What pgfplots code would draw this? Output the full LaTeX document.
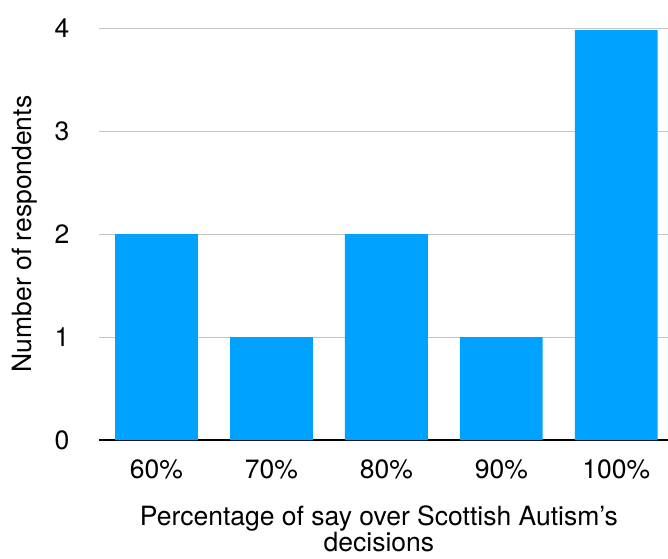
\documentclass[border=0pt]{standalone}
\usepackage{pgfplots}
\pgfplotsset{compat=1.18}
\usepackage{fontspec}
\setmainfont{TeX Gyre Heros}
\definecolor{barblue}{HTML}{00A2FF}
\definecolor{gridgray}{HTML}{C6C6C6}
\begin{document}
\begin{tikzpicture}
\useasboundingbox (0,0) rectangle (668pt,558pt);
\begin{axis}[
  at={(99pt,118pt)}, anchor=south west,
  scale only axis,
  width=569pt, height=412pt,
  xmin=-0.5, xmax=4.45,
  ymin=0, ymax=4,
  ytick={0,1,2,3,4},
  xtick={0,1,2,3,4},
  xticklabels={60\%,70\%,80\%,90\%,100\%},
  axis x line*=bottom,
  axis y line*=left,
  y axis line style={draw=none},
  x axis line style={black, line width=2pt},
  major tick length=0pt,
  ymajorgrids,
  grid style={gridgray, line width=1pt},
  font=\fontsize{26.5}{31}\selectfont,
  /pgf/number format/assume math mode=true,
  yticklabel style={anchor=east, xshift=-26pt},
  xticklabel style={anchor=north, yshift=-16pt},
  ybar, bar width=0.72,
  clip=false,
  xlabel={Percentage of say over Scottish Autism's\\decisions},
  xlabel style={at={(axis description cs:0.492,0)}, anchor=north, yshift=-63pt, align=center, inner sep=2pt, font=\fontsize{26.5}{26}\selectfont},
  ylabel={Number of respondents},
  ylabel style={at={(axis description cs:-0.130,0.5)}, anchor=center, font=\fontsize{26.5}{31}\selectfont},
]
\addplot[fill=barblue, draw=none] coordinates {(0,2) (1,1) (2,2) (3,1) (4,3.98)};
\end{axis}
\end{tikzpicture}
\end{document}
